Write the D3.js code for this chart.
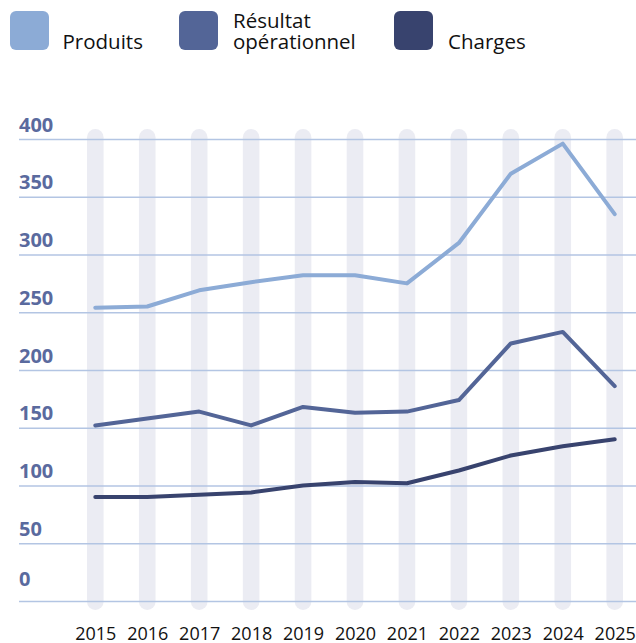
<!DOCTYPE html>
<html><head><meta charset="utf-8">
<script src="https://cdn.jsdelivr.net/npm/d3@7"></script>
<style>
html,body{margin:0;padding:0;background:#fff;}
svg{display:block;}
</style></head>
<body>
<svg id="chart" width="636" height="643"></svg>
<script>
const years = ["2015","2016","2017","2018","2019","2020","2021","2022","2023","2024","2025"];
const produits = [254, 255, 269, 276, 282, 282, 275, 310, 370, 396, 335];
const resultat = [152, 158, 164, 152, 168, 163, 164, 174, 223, 233, 186];
const charges  = [90, 90, 92, 94, 100, 103, 102, 113, 126, 134, 140];
const yTicks = [0, 50, 100, 150, 200, 250, 300, 350, 400];
const seriesNames = ["Produits", "Résultat opérationnel", "Charges"];
const seriesColors = ["#8cabd6", "#536597", "#38436e"];

const svg = d3.select("#chart");
const x = d3.scalePoint().domain(years).range([95.3, 614.7]);
const y = d3.scaleLinear().domain([0, 400]).range([601, 139]);

// background pill bars
const barW = 16.6;
svg.append("g").selectAll("rect").data(years).join("rect")
  .attr("x", d => x(d) - barW / 2)
  .attr("y", y(400) - 10)
  .attr("width", barW)
  .attr("height", (y(0) + 9) - (y(400) - 10))
  .attr("rx", barW / 2)
  .attr("fill", "#ebecf3");

// grid lines
const yAxis = d3.axisLeft(y).tickValues(yTicks).tickSize(-(636 - 19)).tickFormat(d => d);
const gAxis = svg.append("g").attr("transform", "translate(19,0)").call(yAxis);
gAxis.select(".domain").remove();
gAxis.selectAll(".tick line").attr("stroke", "#b3c5e3").attr("stroke-width", 1.5);
gAxis.selectAll(".tick text")
  .attr("x", 0).attr("dy", null)
  .attr("y", d => d === 0 ? -16 : -8)
  .attr("text-anchor", "start")
  .attr("fill", "#5a6a9e")
  .attr("font-family", "'Open Sans', sans-serif")
  .attr("font-weight", "bold")
  .attr("font-size", 20);

// x labels
const xAxis = d3.axisBottom(x).tickSize(0).tickPadding(0);
const gx = svg.append("g").attr("transform", "translate(0,640)").call(xAxis);
gx.select(".domain").remove();
gx.selectAll(".tick text")
  .attr("y", 0).attr("dy", null)
  .attr("fill", "#111")
  .attr("font-family", "'Open Sans', sans-serif")
  .attr("font-size", 18);

// lines
const line = d3.line().x((d, i) => x(years[i])).y(d => y(d));
[produits, resultat, charges].forEach((s, k) => {
  svg.append("path").datum(s)
    .attr("d", line)
    .attr("fill", "none")
    .attr("stroke", seriesColors[k])
    .attr("stroke-width", 4)
    .attr("stroke-linecap", "round")
    .attr("stroke-linejoin", "round");
});

// legend
const legend = [
  {name: seriesNames[0], color: seriesColors[0], sx: 10, tx: 62.5, lines: ["Produits"]},
  {name: seriesNames[1], color: seriesColors[1], sx: 179, tx: 233, lines: ["Résultat", "opérationnel"]},
  {name: seriesNames[2], color: seriesColors[2], sx: 394, tx: 448, lines: ["Charges"]}
];
const lg = svg.append("g");
legend.forEach(l => {
  lg.append("rect").attr("x", l.sx).attr("y", 11).attr("width", 39).attr("height", 39)
    .attr("rx", 6).attr("fill", l.color);
  const t = lg.append("text").attr("font-family", "'Open Sans', sans-serif")
    .attr("font-size", 20.5).attr("fill", "#111");
  const n = l.lines.length;
  l.lines.forEach((s, i) => {
    t.append("tspan").attr("x", l.tx).attr("y", 49 - (n - 1 - i) * 21.5).text(s);
  });
});
</script>
</body></html>
